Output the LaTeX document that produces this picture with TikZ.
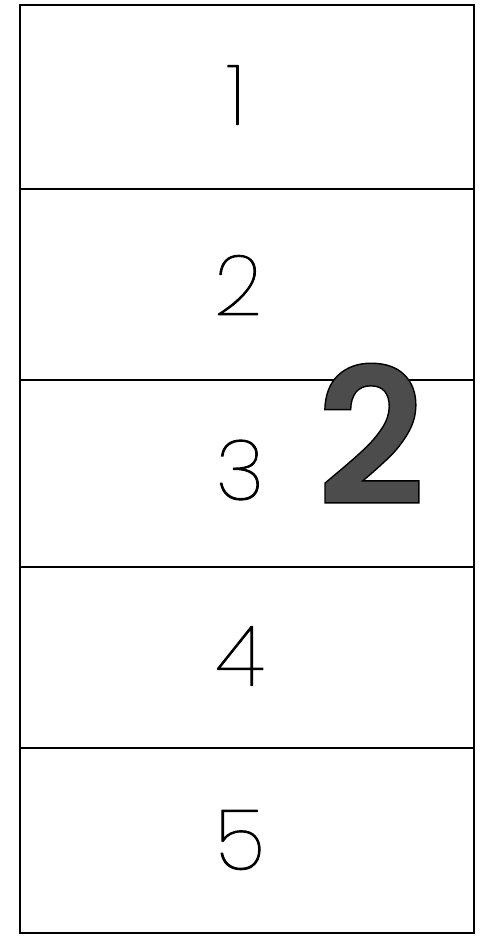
\documentclass[tikz,border=0pt]{standalone}
\usepackage{fontspec}
\setmainfont{Liberation Sans}
\IfFontExistsTF{Poppins Thin}{\newfontfamily\digitfont{Poppins Thin}}{%
 \IfFontExistsTF{Lato Hairline}{\newfontfamily\digitfont{Lato Hairline}}{%
  \IfFontExistsTF{Lato Thin}{\newfontfamily\digitfont{Lato Thin}}{%
     \newfontfamily\digitfont{Liberation Sans}}}}
\IfFontExistsTF{Poppins SemiBold}{\newfontfamily\bigfont{Poppins SemiBold}}{%
  \newfontfamily\bigfont{Liberation Sans Bold}}
\newcommand{\outlinedtext}[1]{\special{pdf:code q 2 Tr 1.4 w 0 G 0.3 g}#1\special{pdf:code Q}}
\newcommand{\thickened}[1]{\special{pdf:code q 2 Tr 0.9 w 1 J 1 j 0 G 0 g}#1\special{pdf:code Q}}
\tikzset{
  frame/.style={line width=1.8pt, black},
  divider/.style={line width=1.4pt, black},
  digit/.style={inner sep=0pt, font=\digitfont\fontsize{84}{84}\selectfont},
  bigdigit/.style={inner sep=0pt, font=\bigfont\fontsize{190}{190}\selectfont, text=black!70}
}
\begin{document}
\begin{tikzpicture}[x=1pt,y=-1pt]
\useasboundingbox (0,0) rectangle (483,940);
\coordinate (tl) at (20,5);
\coordinate (br) at (474,933);
\draw[frame] (tl) rectangle (br);
\foreach \yy/\nm in {189/a,380/b,567/c,748/d}{
  \coordinate (l\nm) at (20,\yy);
  \coordinate (r\nm) at (474,\yy);
  \draw[divider] (l\nm) -- (r\nm);
}
\node[digit] (n1) at (236,95) {\thickened{1}};
\node[digit] (n2) at (238,285) {\thickened{2}};
\node[digit] (n3) at (240,470) {\thickened{3}};
\node[digit] (n4) at (240,656) {\thickened{4}};
\node[digit] (n5) at (240,840) {\thickened{5}};
\node[bigdigit] (big) at (371,434) {\outlinedtext{2}};
\end{tikzpicture}
\end{document}
